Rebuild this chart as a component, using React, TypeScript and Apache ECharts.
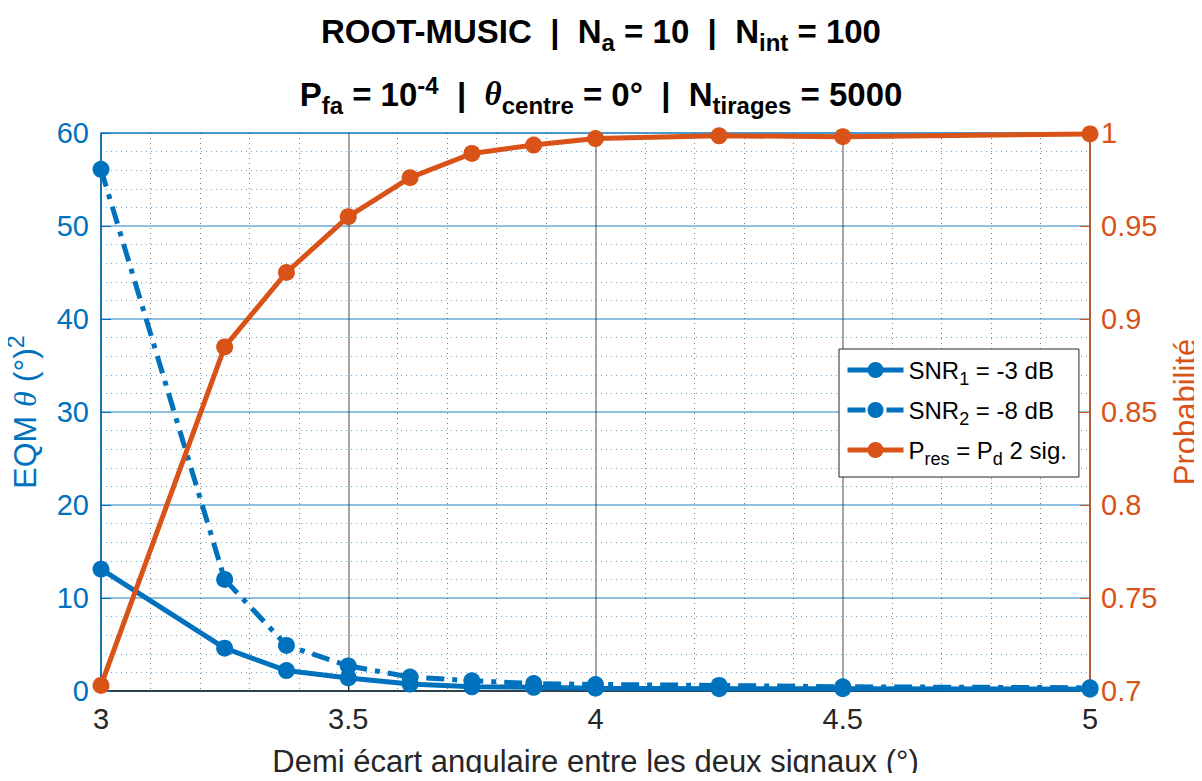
import React, { useEffect, useRef } from "react";
import * as echarts from "echarts";

const xValues = [3, 3.25, 3.375, 3.5, 3.625, 3.75, 3.875, 4, 4.25, 4.5, 5];
const snr1 = [13.1, 4.6, 2.2, 1.4, 0.75, 0.45, 0.4, 0.3, 0.25, 0.25, 0.2];
const snr2 = [56.1, 12.0, 4.9, 2.7, 1.5, 1.1, 0.8, 0.7, 0.6, 0.45, 0.35];
const pres = [0.703, 0.885, 0.925, 0.955, 0.976, 0.989, 0.9935, 0.997, 0.9985, 0.998, 0.9995];

const seriesNames = ["SNR1", "SNR2", "Pres"];
const legendLabels: Record<string, string> = {
  SNR1: "{n|SNR}{s|1}{n| = -3 dB}",
  SNR2: "{n|SNR}{s|2}{n| = -8 dB}",
  Pres: "{n|P}{s|res}{n| = P}{s|d}{n| 2 sig.}",
};

const BLUE = "#0072BD";
const ORANGE = "#D95319";
const DARK = "#262626";
const FONT = "'Liberation Sans', Arial, Helvetica, sans-serif";
const SERIF = "'Liberation Serif', 'DejaVu Serif', serif";

const titleRich = {
  b: { fontSize: 33, fontWeight: "bold", fontFamily: FONT, color: "#000" },
  sub: { fontSize: 24, fontWeight: "bold", fontFamily: FONT, color: "#000", padding: [22, 0, 0, 0] },
  sup: { fontSize: 24, fontWeight: "bold", fontFamily: FONT, color: "#000", padding: [0, 0, 18, 0] },
  th: { fontSize: 33, fontStyle: "italic", fontFamily: SERIF, color: "#000" },
};

export default function App() {
  const ref = useRef<HTMLDivElement>(null);
  useEffect(() => {
    if (!ref.current) return;
    const chart = echarts.init(ref.current, undefined, { renderer: "svg" });
    const pairs = (ys: number[]) => xValues.map((x, i) => [x, ys[i]]);
    chart.setOption({
      animation: false,
      backgroundColor: "#fff",
      textStyle: { fontFamily: FONT },
      title: [
        {
          text: "{b|ROOT-MUSIC  |  N}{sub|a}{b| = 10  |  N}{sub|int}{b| = 100}",
          left: "center",
          top: 3,
          textStyle: { rich: titleRich },
        },
        {
          text: "{b|P}{sub|fa}{b| = 10}{sup|-4}{b|  |  }{th|θ}{sub|centre}{b| = 0°  |  N}{sub|tirages}{b| = 5000}",
          left: "center",
          top: 66,
          textStyle: { rich: titleRich },
        },
      ],
      grid: {
        left: 101,
        right: 112,
        top: 133,
        bottom: 90,
        show: true,
        borderColor: BLUE,
        borderWidth: 1,
        outerBoundsMode: "none",
        containLabel: false,
      },
      legend: {
        data: seriesNames,
        orient: "vertical",
        left: 839,
        top: 349,
        padding: [9, 12, 9, 6],
        itemWidth: 56,
        itemHeight: 20,
        itemGap: 10,
        backgroundColor: "#fff",
        borderColor: DARK,
        borderWidth: 1,
        lineStyle: { width: 5 },
        formatter: (name: string) => legendLabels[name],
        textStyle: {
          rich: {
            n: { fontSize: 24, fontFamily: FONT, color: "#000" },
            s: { fontSize: 18, fontFamily: FONT, color: "#000", padding: [18, 0, 0, 0] },
          },
        },
      },
      xAxis: {
        type: "value",
        min: 3,
        max: 5,
        interval: 0.5,
        name: "Demi écart angulaire entre les deux signaux (°)",
        nameLocation: "middle",
        nameGap: 55,
        nameTextStyle: { fontSize: 31, lineHeight: 31, color: DARK, fontFamily: FONT },
        axisLine: { show: true, onZero: false, lineStyle: { color: DARK, width: 1.5 } },
        axisTick: { show: true, inside: true, length: 10, lineStyle: { color: DARK } },
        axisLabel: { fontSize: 29, color: DARK, margin: 13, fontFamily: FONT },
        splitLine: { show: true, lineStyle: { color: "rgba(38,38,38,0.55)", width: 1.5 } },
        minorTick: { show: false, splitNumber: 5 },
        minorSplitLine: { show: true, lineStyle: { color: "rgba(38,38,38,0.6)", type: [1, 4], width: 1 } },
      },
      yAxis: [
        {
          type: "value",
          min: 0,
          max: 60,
          interval: 10,
          position: "left",
          name: "{a|EQM }{t|θ}{a| (°)}{p|2}",
          nameLocation: "middle",
          nameRotate: 90,
          nameGap: 56,
          nameTextStyle: {
            rich: {
              a: { fontSize: 32, color: BLUE, fontFamily: FONT },
              t: { fontSize: 32, color: BLUE, fontFamily: SERIF, fontStyle: "italic" },
              p: { fontSize: 23, color: BLUE, fontFamily: FONT, padding: [0, 0, 18, 0] },
            },
          },
          axisLine: { show: true, lineStyle: { color: BLUE, width: 1.5 } },
          axisTick: { show: true, inside: true, length: 10, lineStyle: { color: BLUE } },
          axisLabel: { fontSize: 29, color: BLUE, margin: 12, fontFamily: FONT },
          splitLine: { show: true, lineStyle: { color: "rgba(0,114,189,0.6)", width: 1.5 } },
          minorTick: { show: false, splitNumber: 5 },
          minorSplitLine: { show: true, lineStyle: { color: "rgba(0,114,189,0.6)", type: [1, 4], width: 1 } },
        },
        {
          type: "value",
          min: 0.7,
          max: 1,
          interval: 0.05,
          position: "right",
          name: "Probabilité",
          nameLocation: "middle",
          nameRotate: 90,
          nameGap: 80,
          nameTextStyle: { fontSize: 31, lineHeight: 31, color: ORANGE, fontFamily: FONT },
          axisLine: { show: true, lineStyle: { color: ORANGE, width: 1.5 } },
          axisTick: { show: true, inside: true, length: 10, lineStyle: { color: ORANGE } },
          axisLabel: { fontSize: 29, color: ORANGE, margin: 11, fontFamily: FONT },
          splitLine: { show: false },
        },
      ],
      series: [
        {
          name: "SNR1",
          type: "line",
          yAxisIndex: 0,
          data: pairs(snr1),
          symbol: "circle",
          symbolSize: 17,
          lineStyle: { color: BLUE, width: 5 },
          itemStyle: { color: BLUE },
        },
        {
          name: "SNR2",
          type: "line",
          yAxisIndex: 0,
          data: pairs(snr2),
          symbol: "circle",
          symbolSize: 17,
          lineStyle: { color: BLUE, width: 5, type: [18, 8, 5, 8] },
          itemStyle: { color: BLUE },
        },
        {
          name: "Pres",
          type: "line",
          yAxisIndex: 1,
          data: pairs(pres),
          symbol: "circle",
          symbolSize: 17,
          lineStyle: { color: ORANGE, width: 5 },
          itemStyle: { color: ORANGE },
        },
      ],
    });
    return () => chart.dispose();
  }, []);
  return <div ref={ref} style={{ width: 1202, height: 781, margin: -8 }} />;
}
